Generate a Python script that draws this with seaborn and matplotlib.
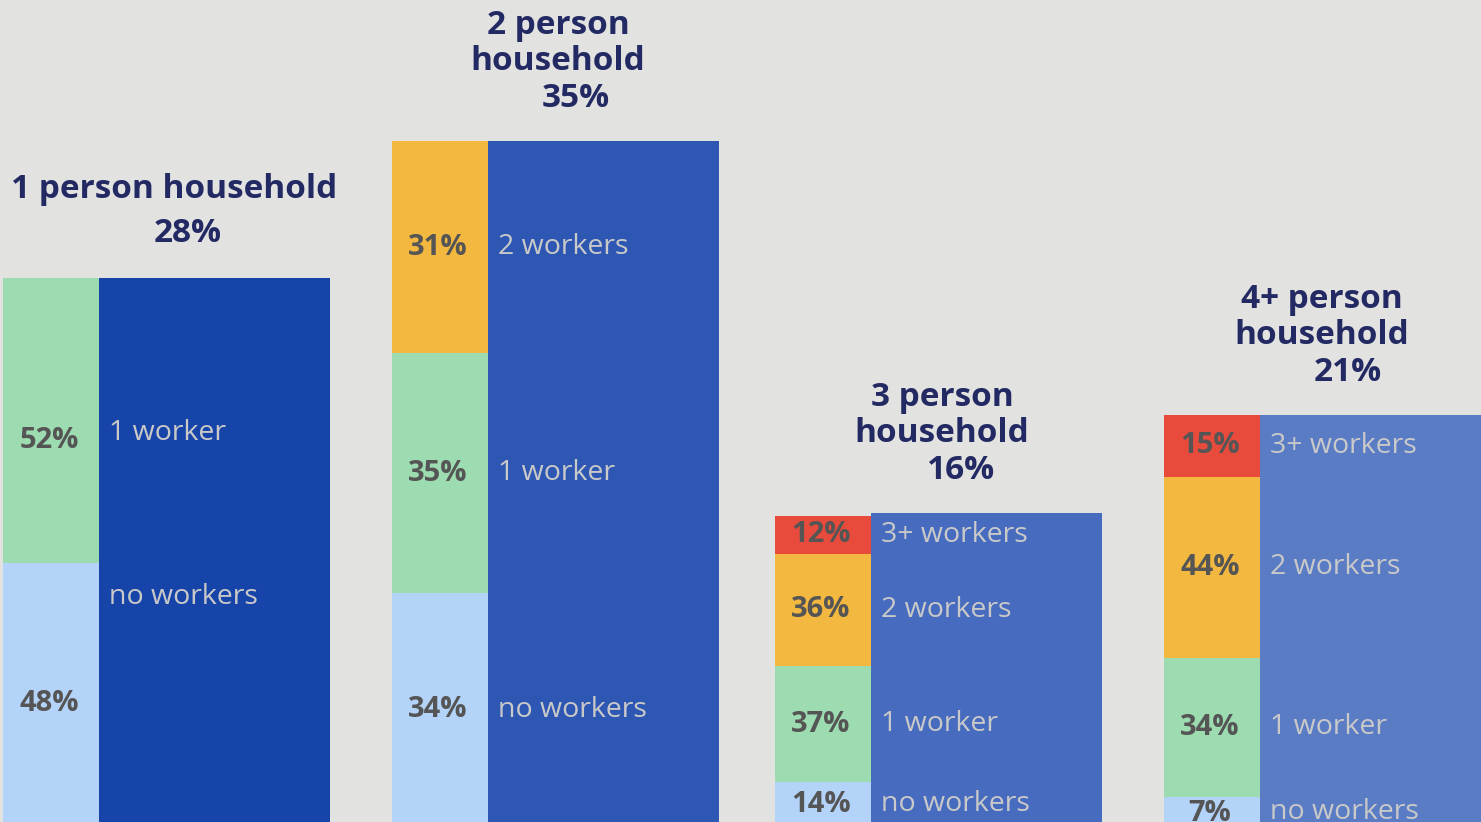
import numpy as np
import matplotlib
matplotlib.use("Agg")
import matplotlib.pyplot as plt
import seaborn as sns

# =========================
# DATA
# =========================

groups = ["1 person\nhousehold", "2 person\nhousehold", "3 person\nhousehold", "4+ person\nhousehold"]
shares = [28, 35, 16, 21]   # % of all households
categories = ["no workers", "1 worker", "2 workers", "3+ workers"]
no_workers = [48, 34, 14, 7]
one_worker = [52, 35, 37, 34]
two_workers = [0, 31, 36, 44]
three_plus = [0, 0, 12, 15]

# =========================
# STYLE / LAYOUT
# =========================

sns.set_style("white")
plt.rcParams["font.family"] = ["Open Sans", "DejaVu Sans"]

BG = "#e2e2e0"
NAVY = "#232a63"
seg_colors = ["#b3d3f9", "#9ddcb0", "#f3b83f", "#e84b3c"]
wide_colors = ["#1744a8", "#2d57b3", "#476bbe", "#5a7cc5"]

W, H = 1481, 822
PX = 19.57                      # pixels per percentage point
BASE = 826                      # pixel row of the 0 line (just below the frame)

left = [3, 392, 775, 1164]      # left edge of the narrow bar
narrow_w = 96
wide_w = 231

fig = plt.figure(figsize=(W / 100, H / 100), dpi=100)
fig.patch.set_facecolor(BG)
ax = fig.add_axes([0, 0, 1, 1])
ax.set_facecolor(BG)
ax.set_xlim(0, W)
ax.set_ylim((BASE - H) / PX, BASE / PX)
ax.axis("off")

def py(p):
    # pixel row -> data value
    return (BASE - p) / PX

splits = np.array([no_workers, one_worker, two_workers, three_plus], dtype=float)

# wide label nudges (pixels), group 1 is off-centre in the original
wide_nudge = {(0, 0): -97, (0, 1): 12}
pct_nudge = {(0, 0): 9, (0, 1): 20, (3, 0): 2}

for g in range(len(groups)):
    total = shares[g]
    x0 = left[g]
    # wide bar
    ax.bar(x0 + narrow_w, total, width=wide_w, align="edge",
           color=wide_colors[g], linewidth=0)
    bottom = 0.0
    for c in range(len(categories)):
        v = splits[c, g]
        if v <= 0:
            continue
        h = total * v / 100
        ax.bar(x0, h, width=narrow_w, bottom=bottom, align="edge",
               color=seg_colors[c], linewidth=0)
        mid = bottom + h / 2
        ax.text(x0 + narrow_w / 2 - 2, mid - pct_nudge.get((g, c), 0) / PX,
                f"{int(v)}%", ha="center", va="center",
                fontsize=21, fontweight="bold", color="#555555")
        ax.text(x0 + narrow_w + 10, mid - wide_nudge.get((g, c), 0) / PX,
                categories[c], ha="left", va="center",
                fontsize=20.5, color="#c9c9c9")
        bottom += h

# titles
title_pos = [(174, 190, 188, 234), (558, 43, 576, 99), (942, 415, 961, 470), (1322, 317, 1348, 372)]
for g in range(len(groups)):
    xt, yt, xp, yp = title_pos[g]
    name = groups[g] if g > 0 else groups[g].replace("\n", " ")
    ax.text(xt, py(yt), name, ha="center", va="center", fontsize=24,
            fontweight="bold", color=NAVY, linespacing=1.12)
    ax.text(xp, py(yp), f"{shares[g]}%", ha="center", va="center",
            fontsize=24, fontweight="bold", color=NAVY)

fig.savefig("out.png", dpi=100, facecolor=BG)
